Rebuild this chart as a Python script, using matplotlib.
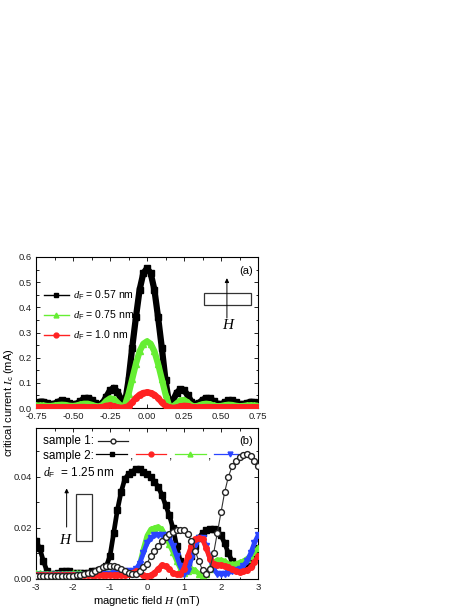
import numpy as np
import matplotlib
matplotlib.use("Agg")
import matplotlib.pyplot as plt
from matplotlib.lines import Line2D
from matplotlib.patches import Rectangle
from matplotlib.ticker import MultipleLocator, FormatStrFormatter
from matplotlib.offsetbox import (AnchoredOffsetbox, HPacker, VPacker,
                                  TextArea, DrawingArea)

plt.rcParams.update({
    "font.family": ["Liberation Sans", "DejaVu Sans"],
    "mathtext.fontset": "custom",
    "mathtext.rm": "Liberation Sans",
    "mathtext.it": "Liberation Serif:italic",
    "mathtext.bf": "Liberation Sans:bold",
})

# ---------------- data: panel (a) ----------------
x_a = np.round(np.arange(-0.75, 0.7501, 0.025), 3)
black_a = [0.020, 0.025, 0.025, 0.020, 0.015, 0.017, 0.025, 0.030, 0.028, 0.020,
           0.015, 0.017, 0.027, 0.038, 0.040, 0.033, 0.020, 0.013, 0.020, 0.045,
           0.070, 0.080, 0.065, 0.035, 0.015,
           0.11, 0.24, 0.36, 0.47, 0.535, 0.555, 0.535, 0.47, 0.36, 0.24, 0.11,
           0.015, 0.030, 0.060, 0.075, 0.072, 0.050, 0.025, 0.015, 0.020, 0.032,
           0.040, 0.038, 0.028, 0.017, 0.015, 0.022, 0.030, 0.030, 0.022, 0.015,
           0.015, 0.020, 0.025, 0.022, 0.018]
green_a = [0.010, 0.010, 0.010, 0.008, 0.008, 0.010, 0.012, 0.013, 0.012, 0.009,
           0.008, 0.010, 0.014, 0.017, 0.017, 0.013, 0.008, 0.006, 0.012, 0.028,
           0.038, 0.036, 0.022, 0.008, 0.010,
           0.055, 0.115, 0.175, 0.225, 0.255, 0.265, 0.255, 0.225, 0.175, 0.115, 0.055,
           0.008, 0.006, 0.018, 0.030, 0.032, 0.022, 0.010, 0.006, 0.010, 0.015,
           0.017, 0.015, 0.010, 0.007, 0.008, 0.011, 0.013, 0.012, 0.009, 0.007,
           0.008, 0.010, 0.011, 0.010, 0.009]
red_a = [0.003, 0.003, 0.003, 0.003, 0.003, 0.003, 0.003, 0.003, 0.003, 0.003,
         0.003, 0.003, 0.004, 0.004, 0.003, 0.003, 0.002, 0.002, 0.004, 0.009,
         0.010, 0.006, 0.002, 0.001, 0.002,
         0.008, 0.022, 0.040, 0.053, 0.060, 0.062, 0.060, 0.053, 0.040, 0.022, 0.008,
         0.002, 0.001, 0.002, 0.006, 0.009, 0.008, 0.004, 0.002, 0.002, 0.003,
         0.004, 0.004, 0.003, 0.003, 0.003, 0.003, 0.003, 0.003, 0.003, 0.003,
         0.003, 0.003, 0.003, 0.003, 0.003]
labels_a = ["0.57 nm", "0.75 nm", "1.0 nm"]

# ---------------- data: panel (b) ----------------
x_b = np.round(np.arange(-3.0, 3.001, 0.1), 2)
black_b = [0.015, 0.012, 0.007, 0.003, 0.002, 0.002, 0.0025, 0.003, 0.003, 0.003,
           0.0025, 0.0025, 0.0025, 0.0025, 0.0025, 0.003, 0.003, 0.0035, 0.004, 0.005,
           0.009, 0.018, 0.027, 0.034, 0.039, 0.041, 0.042, 0.043, 0.043, 0.042,
           0.041, 0.040, 0.038, 0.036, 0.033, 0.029, 0.025, 0.020, 0.013, 0.007,
           0.003, 0.005, 0.009, 0.013, 0.016, 0.018, 0.019, 0.0195, 0.0195, 0.019,
           0.017, 0.014, 0.010, 0.007, 0.005, 0.004, 0.004, 0.005, 0.006, 0.009,
           0.012]
circ_b = [0.001, 0.001, 0.001, 0.001, 0.001, 0.001, 0.001, 0.001, 0.0012, 0.0012,
          0.0013, 0.0015, 0.0017, 0.002, 0.0022, 0.0025, 0.003, 0.0038, 0.0045, 0.005,
          0.0052, 0.005, 0.0045, 0.0038, 0.003, 0.0022, 0.0018, 0.002, 0.003, 0.0045,
          0.006, 0.009, 0.011, 0.013, 0.015, 0.0165, 0.0175, 0.0185, 0.019, 0.0192,
          0.019, 0.0175, 0.015, 0.011, 0.007, 0.0035, 0.0018, 0.004, 0.010, 0.018,
          0.026, 0.034, 0.040, 0.044, 0.046, 0.0475, 0.0485, 0.049, 0.048, 0.046,
          0.044]
green_b = [0.0022, 0.0022, 0.0021, 0.0021, 0.002, 0.002, 0.002, 0.002, 0.0021, 0.0021,
           0.0022, 0.0022, 0.0022, 0.0021, 0.002, 0.002, 0.002, 0.002, 0.0021, 0.0022,
           0.0022, 0.0023, 0.0024, 0.0025, 0.0025, 0.0025, 0.0027, 0.003, 0.006, 0.012,
           0.017, 0.0195, 0.020, 0.0205, 0.0195, 0.017, 0.0135, 0.0105, 0.007, 0.004,
           0.0025, 0.003, 0.004, 0.0035, 0.002, 0.0015, 0.002, 0.004, 0.0065, 0.0075,
           0.0075, 0.007, 0.006, 0.0058, 0.006, 0.0065, 0.007, 0.008, 0.009, 0.0105,
           0.012]
blue_b = [0.0015, 0.0015, 0.0015, 0.0015, 0.0015, 0.0015, 0.0015, 0.0015, 0.0015, 0.0015,
          0.0015, 0.0015, 0.0015, 0.0015, 0.0015, 0.0015, 0.0015, 0.0017, 0.002, 0.002,
          0.002, 0.0022, 0.0025, 0.0027, 0.003, 0.003, 0.003, 0.0038, 0.006, 0.010,
          0.014, 0.016, 0.017, 0.0172, 0.0172, 0.017, 0.016, 0.013, 0.009, 0.005,
          0.002, 0.003, 0.008, 0.013, 0.016, 0.016, 0.013, 0.008, 0.004, 0.002,
          0.002, 0.002, 0.0025, 0.003, 0.0035, 0.004, 0.005, 0.007, 0.010, 0.014,
          0.017]
red_b = [0.0015, 0.0015, 0.0015, 0.0015, 0.0015, 0.0015, 0.0015, 0.0015, 0.0015, 0.0015,
         0.0015, 0.0015, 0.0015, 0.0015, 0.0015, 0.0015, 0.0015, 0.0015, 0.0015, 0.0015,
         0.0015, 0.0015, 0.0015, 0.0015, 0.0015, 0.002, 0.0025, 0.003, 0.0025, 0.0015,
         0.0012, 0.0015, 0.0025, 0.004, 0.0055, 0.005, 0.004, 0.0025, 0.0018, 0.002,
         0.004, 0.009, 0.013, 0.0155, 0.016, 0.0155, 0.012, 0.008, 0.006, 0.0055,
         0.0055, 0.005, 0.0045, 0.004, 0.003, 0.0028, 0.003, 0.0035, 0.0045, 0.0065,
         0.009]

BLACK = "#000000"
GREEN = "#66ee33"
RED = "#ff2222"
BLUE = "#2a44ff"

W, H = 469, 607
fig = plt.figure(figsize=(W / 100, H / 100), dpi=100)
axA = fig.add_axes([36 / W, 1 - 408 / H, 222 / W, 151 / H])
axB = fig.add_axes([36 / W, 1 - 579 / H, 222 / W, 151 / H])


def style(ax):
    ax.tick_params(which="both", direction="in", top=True, right=True,
                   labelsize=6.8, width=0.7, pad=3, colors="#222222")
    ax.tick_params(which="major", length=3)
    ax.tick_params(which="minor", length=1.8)
    for s in ax.spines.values():
        s.set_linewidth(0.8)


# ---------------- panel (a) ----------------
axA.plot(x_a, black_a, color=BLACK, lw=4.5, marker="s", ms=4, zorder=2)
axA.plot(x_a, green_a, color=GREEN, lw=4.5, marker="^", ms=4, zorder=3)
axA.plot(x_a, red_a, color=RED, lw=4.5, marker="o", ms=4, zorder=4)
axA.set_xlim(-0.75, 0.75)
axA.set_ylim(0, 0.6)
axA.xaxis.set_major_locator(MultipleLocator(0.25))
axA.xaxis.set_minor_locator(MultipleLocator(0.125))
axA.yaxis.set_major_locator(MultipleLocator(0.1))
axA.yaxis.set_minor_locator(MultipleLocator(0.05))
axA.xaxis.set_major_formatter(FormatStrFormatter("%.2f"))
axA.yaxis.set_major_formatter(FormatStrFormatter("%.1f"))
style(axA)

handles_a = [Line2D([], [], color=c, marker=m, ms=3.5, lw=1.0)
             for c, m in [(BLACK, "s"), (GREEN, "^"), (RED, "o")]]
axA.legend(handles_a, [r"$d_\mathrm{F}$ = " + s for s in labels_a],
           loc="upper left", bbox_to_anchor=(0.035, 0.79), frameon=False,
           fontsize=7.6, handlelength=2.4, handletextpad=0.35,
           labelspacing=0.62, borderpad=0, borderaxespad=0)

axA.add_patch(Rectangle((0.757, 0.682), 0.212, 0.08, transform=axA.transAxes,
                        fill=False, lw=0.9, ec="#333333"))
axA.annotate("", xy=(0.86, 0.86), xytext=(0.86, 0.596),
             xycoords="axes fraction",
             arrowprops=dict(arrowstyle="-|>", lw=0.7, color="k",
                             mutation_scale=6, shrinkA=0, shrinkB=0))
axA.text(0.865, 0.545, "H", transform=axA.transAxes, fontsize=11,
         family="Liberation Serif", style="italic", ha="center", va="center")
axA.text(0.948, 0.907, "(a)", transform=axA.transAxes, fontsize=8,
         ha="center", va="center")

# ---------------- panel (b) ----------------
axB.plot(x_b, black_b, color=BLACK, lw=3.4, marker="s", ms=4, zorder=2)
axB.plot(x_b, green_b, color=GREEN, lw=3.4, marker="^", ms=4, zorder=3)
axB.plot(x_b, blue_b, color=BLUE, lw=3.4, marker="v", ms=4, zorder=4)
axB.plot(x_b, red_b, color=RED, lw=3.4, marker="o", ms=4, zorder=5)
axB.plot(x_b, circ_b, color="#333333", lw=0.8, marker="o", ms=4.2,
         mfc="white", mec="#222222", mew=1.0, zorder=6)
axB.set_xlim(-3, 3)
axB.set_ylim(0, 0.059)
axB.xaxis.set_major_locator(MultipleLocator(1))
axB.xaxis.set_minor_locator(MultipleLocator(0.5))
axB.yaxis.set_major_locator(MultipleLocator(0.02))
axB.yaxis.set_minor_locator(MultipleLocator(0.01))
axB.yaxis.set_major_formatter(FormatStrFormatter("%.2f"))
axB.xaxis.set_major_formatter(FormatStrFormatter("%d"))
style(axB)
axB.set_xlabel(r"magnetic field $H$ (mT)", fontsize=8, labelpad=1)

tp = dict(fontsize=8.5)


def key(color, marker, mfc=None):
    da = DrawingArea(24, 7, 0, 0)
    da.add_artist(Line2D([1, 23], [3.5, 3.5], color=color, lw=0.9))
    da.add_artist(Line2D([12], [3.5], color=color, marker=marker, ms=3.5,
                         mfc=mfc if mfc else color, mec=color, ls="none"))
    return da


row1 = HPacker(children=[TextArea("sample 1:", textprops=tp),
                         key("#222222", "o", "white")],
               align="center", pad=0, sep=2)
row2 = HPacker(children=[TextArea("sample 2:", textprops=tp),
                         key(BLACK, "s"), TextArea(",", textprops=tp),
                         key(RED, "o"), TextArea(",", textprops=tp),
                         key(GREEN, "^"), TextArea(",", textprops=tp),
                         key(BLUE, "v")],
               align="baseline", pad=0, sep=1)
row3 = TextArea(r"$d_\mathrm{F}$  = 1.25 nm", textprops=tp)
box = VPacker(children=[row1, row2, row3], align="left", pad=0, sep=2)
anch = AnchoredOffsetbox(loc="upper left", child=box, pad=0, borderpad=0,
                         frameon=False, bbox_to_anchor=(0.03, 0.955),
                         bbox_transform=axB.transAxes)
axB.add_artist(anch)

axB.add_patch(Rectangle((0.18, 0.252), 0.072, 0.311, transform=axB.transAxes,
                        fill=False, lw=0.9, ec="#333333"))
axB.annotate("", xy=(0.138, 0.6), xytext=(0.138, 0.344),
             xycoords="axes fraction",
             arrowprops=dict(arrowstyle="-|>", lw=0.7, color="k",
                             mutation_scale=6, shrinkA=0, shrinkB=0))
axB.text(0.131, 0.258, "H", transform=axB.transAxes, fontsize=11,
         family="Liberation Serif", style="italic", ha="center", va="center")
axB.text(0.948, 0.914, "(b)", transform=axB.transAxes, fontsize=8,
         ha="center", va="center")

fig.text(9 / W, 1 - 403 / H, r"critical current $I_\mathrm{c}$ (mA)",
         rotation=90, fontsize=8, ha="center", va="center")

fig.savefig("out.png", dpi=100)
